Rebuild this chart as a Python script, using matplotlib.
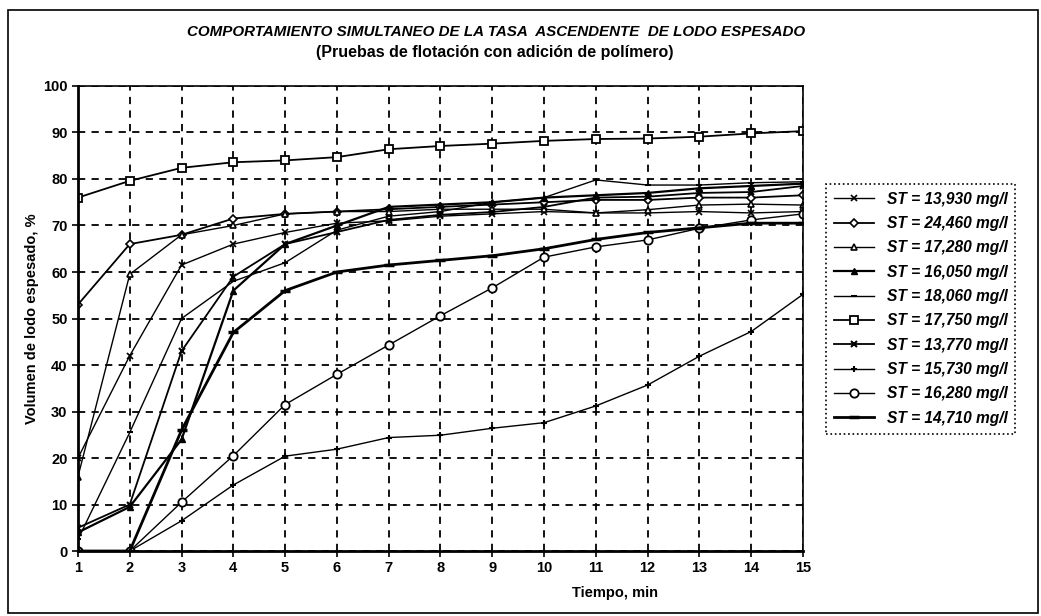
import matplotlib
matplotlib.use("Agg")
import matplotlib.pyplot as plt
from matplotlib.patches import Rectangle

plt.rcParams['font.family'] = ['Liberation Sans', 'DejaVu Sans']

tiempo = [1, 2, 3, 4, 5, 6, 7, 8, 9, 10, 11, 12, 13, 14, 15]

st_13930 = [20, 42, 61.5, 66, 68.5, 70.5, 71, 72, 72.5, 73, 72.7, 72.7, 73, 72.7, 73]
st_24460 = [53, 66, 68, 71.5, 72.5, 73, 73.5, 74, 74.5, 75, 75.5, 75.5, 76, 76, 76.5]
st_17280 = [16, 59.5, 68, 70, 72.5, 73, 73, 73.5, 73.5, 73.5, 72.7, 73.4, 74.4, 74.6, 74.4]
st_16050 = [4, 9.5, 24, 56, 66, 70, 74, 74.5, 75, 76, 76.5, 77, 78, 78.5, 79]
st_18060 = [2.5, 25.5, 50, 58, 62, 69, 72, 73, 75, 76, 79.8, 78.7, 78.7, 79.2, 79.4]
st_17750 = [76, 79.6, 82.4, 83.6, 84, 84.7, 86.4, 87.1, 87.6, 88.2, 88.6, 88.7, 89.1, 89.8, 90.3]
st_13770 = [5, 10, 43, 59, 66, 68.6, 71.2, 72.3, 72.9, 74, 76, 76.2, 77, 77.2, 78.5]
st_15730 = [0, 0, 6.5, 14.2, 20.4, 21.9, 24.4, 24.9, 26.4, 27.6, 31.2, 35.7, 41.9, 47.2, 55.2]
st_16280 = [0, 0, 10.5, 20.5, 31.5, 38, 44.3, 50.6, 56.6, 63.2, 65.4, 66.9, 69.4, 71.2, 72.5]
st_14710 = [0, 0, 26, 47, 56, 60, 61.5, 62.5, 63.5, 65, 67, 68.5, 69.5, 70.5, 70.5]

etiquetas = ["ST = 13,930 mg/l", "ST = 24,460 mg/l", "ST = 17,280 mg/l", "ST = 16,050 mg/l",
             "ST = 18,060 mg/l", "ST = 17,750 mg/l", "ST = 13,770 mg/l", "ST = 15,730 mg/l",
             "ST = 16,280 mg/l", "ST = 14,710 mg/l"]

fig = plt.figure(figsize=(10.41, 6.16), dpi=100)
ax = fig.add_axes([0.0749, 0.1055, 0.6965, 0.7549])

k = 'black'
ax.plot(tiempo, st_13930, color=k, lw=1.0, marker='x', ms=4.5, mew=1.2, label=etiquetas[0])
ax.plot(tiempo, st_24460, color=k, lw=1.3, marker='D', ms=4, mfc='white', mew=1.2, label=etiquetas[1])
ax.plot(tiempo, st_17280, color=k, lw=1.0, marker='^', ms=5, mfc='white', mew=1.2, label=etiquetas[2])
ax.plot(tiempo, st_16050, color=k, lw=1.6, marker='^', ms=5, mfc=k, label=etiquetas[3])
ax.plot(tiempo, st_18060, color=k, lw=1.0, marker='_', ms=5, mew=1.5, label=etiquetas[4])
ax.plot(tiempo, st_17750, color=k, lw=1.3, marker='s', ms=6, mfc='white', mew=1.3, label=etiquetas[5])
ax.plot(tiempo, st_13770, color=k, lw=1.3, marker='x', ms=4.5, mew=1.5, label=etiquetas[6])
ax.plot(tiempo, st_15730, color=k, lw=1.0, marker='+', ms=5, mew=1.5, label=etiquetas[7])
ax.plot(tiempo, st_16280, color=k, lw=1.0, marker='o', ms=6, mfc='white', mew=1.3, label=etiquetas[8])
ax.plot(tiempo, st_14710, color=k, lw=2.0, marker='_', ms=7, mew=2.5, label=etiquetas[9])

ax.set_xlim(1, 15)
ax.set_ylim(0, 100)
ax.set_xticks(tiempo)
ax.set_yticks(range(0, 101, 10))
ax.grid(True, color=k, ls=(0, (4, 3.5)), lw=1.3)
ax.tick_params(direction='out', length=4, width=1.2, labelsize=10.5, colors=k)
for t in ax.get_xticklabels() + ax.get_yticklabels():
    t.set_fontweight('bold')
for s in ['left', 'bottom']:
    ax.spines[s].set_linewidth(2.0)
for s in ['top', 'right']:
    ax.spines[s].set_linewidth(1.2)

ax.set_ylabel("Volumen de lodo espesado, %", fontsize=10.5, fontweight='bold', labelpad=3)
ax.text(0.74, -0.09, "Tiempo, min", transform=ax.transAxes, ha='center', va='center',
        fontsize=10.5, fontweight='bold')

fig.text(0.477, 0.948, "COMPORTAMIENTO SIMULTANEO DE LA TASA  ASCENDENTE  DE LODO ESPESADO",
         ha='center', va='center', fontsize=10.9, fontweight='bold', style='italic')
fig.text(0.475, 0.914, "(Pruebas de flotación con adición de polímero)",
         ha='center', va='center', fontsize=11.5, fontweight='bold')

leg = fig.legend(loc='upper left', bbox_to_anchor=(0.786, 0.714), fontsize=11.2,
                 handlelength=2.6, labelspacing=0.6, borderpad=0.5, fancybox=False,
                 edgecolor=k, framealpha=1)
leg.get_frame().set_linestyle(':')
leg.get_frame().set_linewidth(1.2)
for t in leg.get_texts():
    t.set_style('italic')
    t.set_fontweight('bold')

fig.patches.append(Rectangle((8 / 1041, 1 - 613 / 616), 1030 / 1041, 603 / 616,
                             transform=fig.transFigure, fill=False, edgecolor=k, lw=1.2))

fig.savefig("out.png", dpi=100)
